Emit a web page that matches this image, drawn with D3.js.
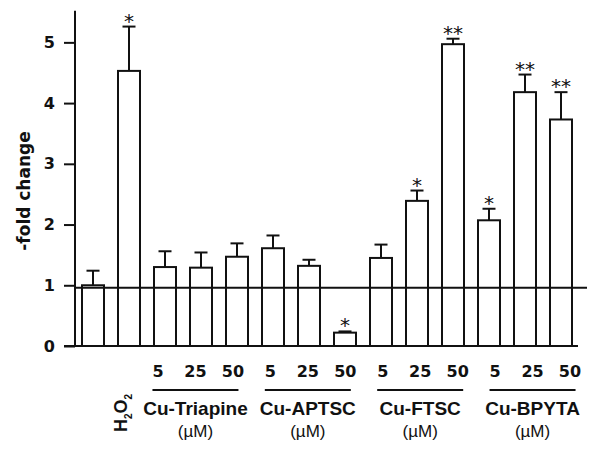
<!DOCTYPE html>
<html><head><meta charset="utf-8">
<script src="https://cdn.jsdelivr.net/npm/d3@7"></script>
<style>body{margin:0;background:#fff}</style>
</head><body>
<svg id="c" width="600" height="454"></svg>
<script>
// ---- data ----
const barIds = ["ctrl","H2O2","T5","T25","T50","A5","A25","A50","F5","F25","F50","B5","B25","B50"];
const foldChange = [1.00, 4.53, 1.30, 1.29, 1.47, 1.61, 1.32, 0.22, 1.45, 2.39, 4.97, 2.07, 4.18, 3.73];
const errorSD    = [0.24, 0.73, 0.26, 0.25, 0.22, 0.21, 0.10, 0.02, 0.22, 0.17, 0.09, 0.19, 0.29, 0.45];
const significance = ["", "*", "", "", "", "", "", "*", "", "*", "**", "*", "**", "**"];
const doseLabels = ["5","25","50","5","25","50","5","25","50","5","25","50"];
const groupNames = ["Cu-Triapine","Cu-APTSC","Cu-FTSC","Cu-BPYTA"];
const unitLabel = "(\u00b5M)";
const yTicks = [0,1,2,3,4,5];
const referenceLevel = 0.96;
const yTitle = "-fold change";

// ---- layout ----
const svg = d3.select("#c");
const x = d3.scaleBand().domain(barIds).range([75, 579]).paddingInner(1/3).paddingOuter(1/6);
const y = d3.scaleLinear().domain([0, 5.5]).range([346, 12]);
const lab = d3.scalePoint().domain(d3.range(doseLabels.length)).range([158, 570]);
const sw = 2;
const black = "#111";

// bars
svg.append("g").selectAll("rect").data(barIds).join("rect")
  .attr("x", d => x(d) + sw/2)
  .attr("width", x.bandwidth() - sw)
  .attr("y", (d,i) => y(foldChange[i]))
  .attr("height", (d,i) => y(0) - y(foldChange[i]))
  .attr("fill", "#fff").attr("stroke", black).attr("stroke-width", sw);

// error bars
const eg = svg.append("g").attr("stroke", black).attr("stroke-width", sw);
barIds.forEach((d,i) => {
  const cx = x(d) + x.bandwidth()/2;
  const top = y(foldChange[i] + errorSD[i]);
  eg.append("line").attr("x1", cx).attr("x2", cx).attr("y1", y(foldChange[i])).attr("y2", top);
  eg.append("line").attr("x1", cx - 6.5).attr("x2", cx + 6.5).attr("y1", top).attr("y2", top);
});

// significance stars
svg.append("g").selectAll("text").data(barIds).join("text")
  .attr("x", d => x(d) + x.bandwidth()/2)
  .attr("y", (d,i) => y(foldChange[i] + errorSD[i]) + 1)
  .attr("text-anchor", "middle")
  .attr("font-family", "DejaVu Sans").attr("font-size", 20).attr("fill", black)
  .text((d,i) => significance[i]);

// y axis
const yAxis = d3.axisLeft(y).tickValues(yTicks).tickSize(11).tickPadding(9).tickFormat(d3.format("d"));
const ya = svg.append("g").attr("transform", "translate(75,0)").call(yAxis);
ya.select(".domain").remove();
ya.selectAll(".tick line").attr("stroke", black).attr("stroke-width", sw);
ya.selectAll(".tick text").attr("font-family", "DejaVu Sans").attr("font-weight", "bold")
  .attr("font-size", 16).attr("fill", black);
svg.append("line").attr("x1", 75).attr("x2", 75).attr("y1", y(0)).attr("y2", y(5.52))
  .attr("stroke", black).attr("stroke-width", sw);

// x axis baseline
svg.append("line").attr("x1", 64).attr("x2", 578).attr("y1", y(0)).attr("y2", y(0))
  .attr("stroke", black).attr("stroke-width", sw);

// reference line
svg.append("line").attr("x1", 75).attr("x2", 587).attr("y1", y(referenceLevel)).attr("y2", y(referenceLevel))
  .attr("stroke", black).attr("stroke-width", sw);

// y title
svg.append("text").attr("transform", "translate(30,191) rotate(-90)")
  .attr("text-anchor", "middle").attr("font-family", "DejaVu Sans").attr("font-weight", "bold")
  .attr("font-size", 17).attr("fill", black).text(yTitle);

// dose labels
svg.append("g").selectAll("text").data(doseLabels).join("text")
  .attr("x", (d,i) => lab(i)).attr("y", 376.5).attr("text-anchor", "middle")
  .attr("font-family", "DejaVu Sans").attr("font-weight", "bold").attr("font-size", 16)
  .attr("fill", black).text(d => d);

// group underline + names
groupNames.forEach((g, k) => {
  const cx = lab(k*3 + 1);
  svg.append("line").attr("x1", cx - 43).attr("x2", cx + 43).attr("y1", 390).attr("y2", 390)
    .attr("stroke", black).attr("stroke-width", sw);
  svg.append("text").attr("x", cx).attr("y", 415).attr("text-anchor", "middle")
    .attr("font-family", "Liberation Sans, Arial, sans-serif").attr("font-weight", "bold").attr("font-size", 19)
    .attr("fill", black).text(g);
  svg.append("text").attr("x", cx).attr("y", 436.5).attr("text-anchor", "middle")
    .attr("font-family", "Liberation Sans, Arial, sans-serif").attr("font-size", 17)
    .attr("fill", black).text(unitLabel);
});

// H2O2 label
const hx = x("H2O2") + x.bandwidth()/2 - 2;
const ht = svg.append("text").attr("transform", `translate(${hx},432) rotate(-90)`)
  .attr("font-family", "Liberation Sans, Arial, sans-serif").attr("font-weight", "bold").attr("font-size", 18).attr("fill", black);
ht.append("tspan").text("H");
ht.append("tspan").attr("font-size", 10).attr("dy", 5).text("2");
ht.append("tspan").attr("dy", -5).text("O");
ht.append("tspan").attr("font-size", 10).attr("dy", 5).text("2");
</script>
</body></html>
